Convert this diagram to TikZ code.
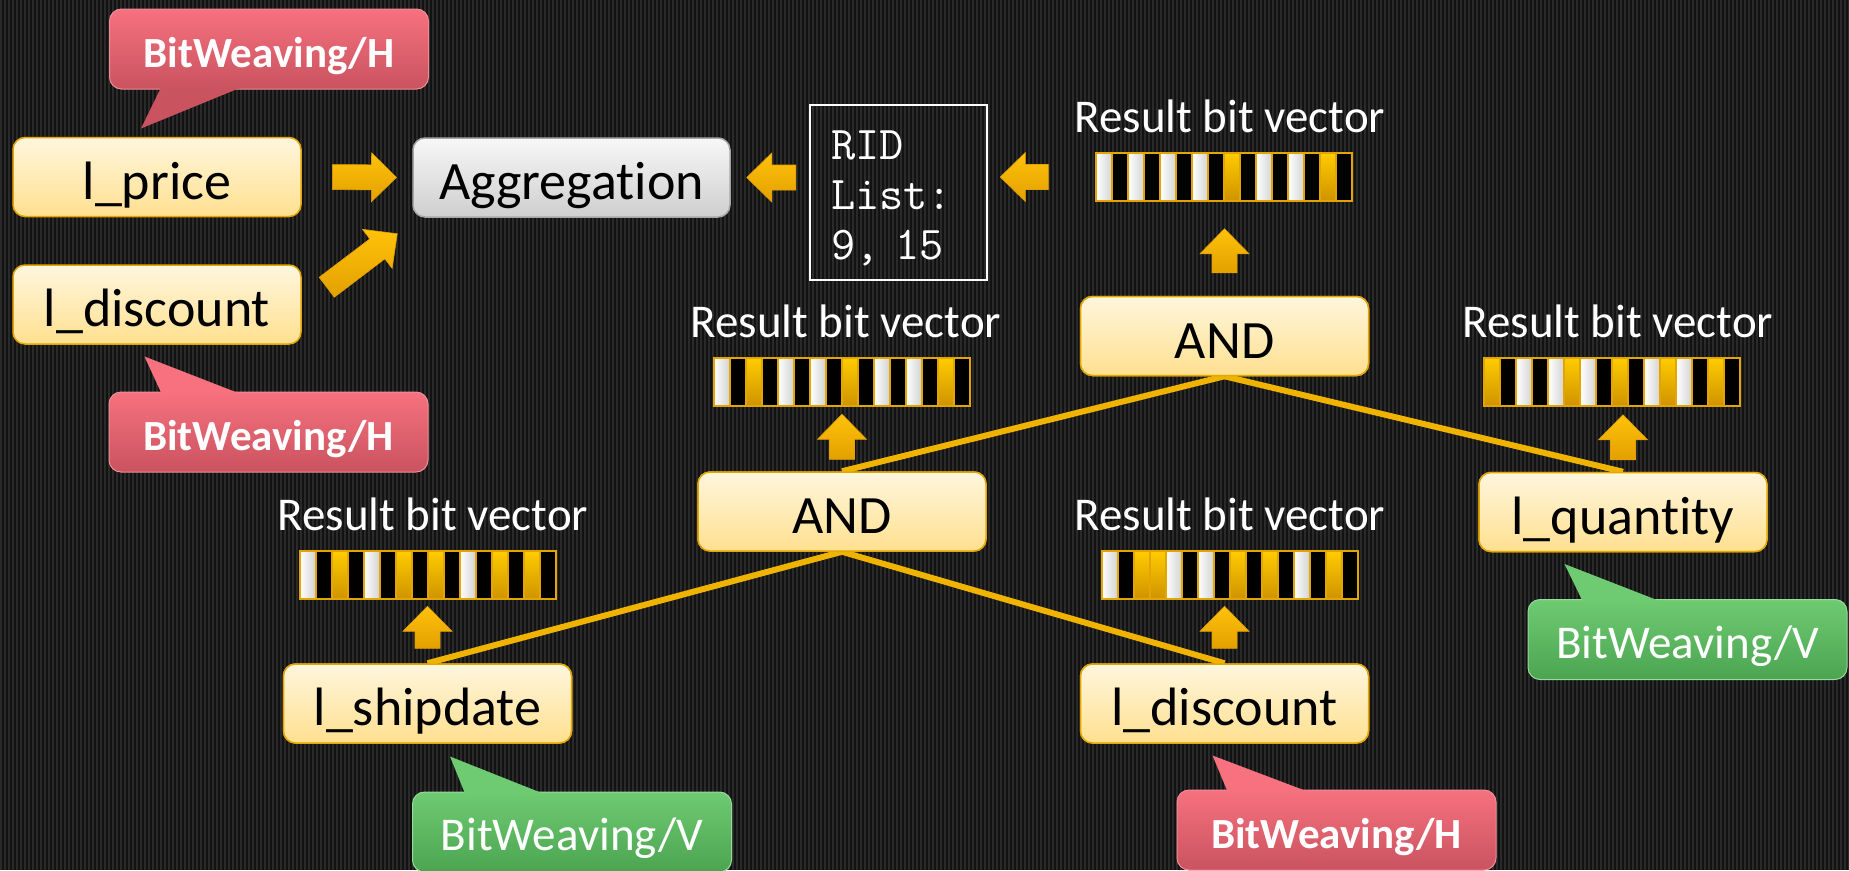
\documentclass[tikz,border=0pt]{standalone}
\usepackage{fontspec}
\setmainfont{Carlito}[Ligatures={NoCommon,NoRequired,NoContextual}]
\usetikzlibrary{calc}
\definecolor{bgdark}{HTML}{121212}
\definecolor{bgstripe}{HTML}{2A2A2A}
\definecolor{boxtop}{HTML}{FFF6DE}
\definecolor{boxbot}{HTML}{FFE08F}
\definecolor{boxline}{HTML}{E3A600}
\definecolor{orangeL}{HTML}{F0B400}
\definecolor{arrtop}{HTML}{FFC20A}
\definecolor{arrbot}{HTML}{E3A000}
\definecolor{redtop}{HTML}{F7717F}
\definecolor{redbot}{HTML}{C9535F}
\definecolor{redline}{HTML}{F08C98}
\definecolor{greentop}{HTML}{6ECB72}
\definecolor{greenbot}{HTML}{4CA451}
\definecolor{cellYa}{HTML}{FFCC00}
\definecolor{cellYb}{HTML}{CF9300}
\tikzset{
  attr/.style={rounded corners=12pt, draw=boxline, line width=1.5pt,
    top color=boxtop, bottom color=boxbot, minimum width=288pt, minimum height=79pt,
    font=\fontsize{54}{60}\selectfont, text height=44pt, text depth=0pt, inner sep=0pt},
  aggbox/.style={attr, draw=gray!70, top color=gray!6, bottom color=gray!38,
    minimum width=317pt},
  redcall/.style={rounded corners=12pt, top color=redtop, bottom color=redbot,
    draw=redline, line width=1pt, minimum width=319pt, minimum height=80pt, inner sep=0pt,
    text=white, font=\bfseries\fontsize{43}{48}\selectfont, text height=37pt, text depth=0pt},
  greencall/.style={redcall, top color=greentop, bottom color=greenbot, draw=greentop!70!white,
    font=\fontsize{47}{50}\selectfont},
  reslabel/.style={text=white, font=\fontsize{47}{50}\selectfont, anchor=base, inner sep=0pt},
  bitvec/.style={minimum width=256pt, minimum height=48pt, inner sep=0pt},
  cellW/.style={left color=white, right color=gray!35, draw=boxline, line width=2pt},
  cellB/.style={fill=black, draw=boxline, line width=2pt},
  cellY/.style={top color=cellYa, bottom color=cellYb, draw=boxline, line width=2pt},
  conn/.style={draw=orangeL, line width=6pt},
  barrowfill/.style={top color=arrtop, bottom color=arrbot, draw=arrbot, line width=0.6pt}
}
\newcommand\blockarrow[2]{%
  \coordinate (ba-s) at (#1);
  \coordinate (ba-e) at (#2);
  \coordinate (ba-h) at ($(ba-e)!25pt!(ba-s)$);
  \shade[barrowfill] ($(ba-s)!12.5pt!90:(ba-e)$) -- ($(ba-h)!12.5pt!-90:(ba-s)$)
    -- ($(ba-h)!24.5pt!-90:(ba-s)$) -- (ba-e) -- ($(ba-h)!24.5pt!90:(ba-s)$)
    -- ($(ba-h)!12.5pt!90:(ba-s)$) -- ($(ba-s)!12.5pt!-90:(ba-e)$) -- cycle;
}
\newcommand\bitcells[2]{%
  \foreach \c [count=\i from 0] in {#2} {
    \path[cell\c] ($(#1.north west)+(\i*16,0)$) rectangle ++(16,48);
  }%
}
\begin{document}
\begin{tikzpicture}[x=1pt, y=-1pt]
\useasboundingbox (0,0) rectangle (1849,870);
\fill[bgdark] (0,0) rectangle (1849,870);
\foreach \x in {0,4,...,1848} \fill[bgstripe] (\x,0) rectangle ++(1.7,870);

% nodes
\node[attr] (price) at (157,177) {l\_price};
\node[attr] (disc1) at (157,304.5) {l\_discount};
\node[aggbox] (agg) at (571.5,177.5) {Aggregation};
\node[draw=white, line width=1.5pt, minimum width=177pt, minimum height=175pt, inner sep=0pt,
  text width=135pt, align=left, text=white, font=\ttfamily\fontsize{47}{50}\selectfont]
  (rid) at (898.5,192.5) {\rule{0pt}{40pt}RID\\List:\\9, 15};
\node[attr] (and1) at (1224.5,336) {AND};
\node[attr] (and2) at (842,511.5) {AND};
\node[attr] (qty) at (1623,512) {l\_quantity};
\node[attr] (ship) at (427.5,703.5) {l\_shipdate};
\node[attr] (disc2) at (1224.5,703.5) {l\_discount};

% connecting lines
\draw[conn] (and1.south) -- (and2.north);
\draw[conn] (and1.south) -- (qty.north);
\draw[conn] (and2.south) -- (ship.north);
\draw[conn] (and2.south) -- (disc2.north);
% redraw boxes over line ends
\node[attr] at (and2) {AND};
\node[attr] at (qty) {l\_quantity};
\node[attr] at (ship) {l\_shipdate};
\node[attr] at (disc2) {l\_discount};
\node[attr] at (and1) {AND};

% labels and bit vectors
\node[reslabel] (lab1) at (1230,132) {Result bit vector};
\node[bitvec] (bv1) at (1224.5,177) {};
\bitcells{bv1}{W,B,W,B,W,B,W,B,Y,B,W,B,W,B,Y,B}
\node[reslabel] (lab2) at (846,337) {Result bit vector};
\node[bitvec] (bv2) at (842,382) {};
\bitcells{bv2}{W,B,Y,B,W,B,W,B,Y,B,W,B,W,B,Y,B}
\node[reslabel] (lab3) at (1618,337) {Result bit vector};
\node[bitvec] (bv3) at (1612.5,382) {};
\bitcells{bv3}{Y,B,W,B,W,Y,W,B,Y,B,W,Y,W,B,Y,B}
\node[reslabel] (lab4) at (433,530) {Result bit vector};
\node[bitvec] (bv4) at (428,575.5) {};
\bitcells{bv4}{W,B,Y,B,W,B,Y,B,Y,B,W,B,Y,B,Y,B}
\node[reslabel] (lab5) at (1230,530) {Result bit vector};
\node[bitvec] (bv5) at (1230,575.5) {};
\bitcells{bv5}{W,B,Y,Y,W,B,W,B,Y,B,Y,B,W,B,Y,B}

% block arrows
\blockarrow{$(price.east)!0.277!(agg.west)$}{$(price.east)!0.857!(agg.west)$}
\blockarrow{$(disc1.north east)+(25,23)$}{$(agg.south west)+(-15,16)$}
\blockarrow{$(agg.east)+(65,0)$}{$(agg.east)+(16,0)$}
\blockarrow{$(bv1.west)+(-48,0)$}{$(bv1.west)+(-96,0)$}
\blockarrow{$(and1.north)+(0,-23)$}{$(and1.north)+(0,-67)$}
\blockarrow{$(and2.north)+(0,-12)$}{$(and2.north)+(0,-57)$}
\blockarrow{$(qty.north)+(0,-12)$}{$(qty.north)+(0,-57)$}
\blockarrow{$(ship.north)+(0,-15)$}{$(ship.north)+(0,-57)$}
\blockarrow{$(disc2.north)+(0,-15)$}{$(disc2.north)+(0,-57)$}

% callouts
\node[redcall] (cb1) at (269,49) {BitWeaving/H};
\fill[redbot] ($(cb1.south west)+(52,-2)$) -- ($(cb1.south west)+(132,-2)$) -- ($(cb1.south west)+(32,39)$) -- cycle;
\node[redcall] (cb2) at (268.5,432) {BitWeaving/H};
\fill[redtop] ($(cb2.north west)+(53,2)$) -- ($(cb2.north west)+(131,2)$) -- ($(cb2.north west)+(36,-35)$) -- cycle;
\node[greencall] (cg1) at (1687.5,639.5) {BitWeaving/V};
\fill[greentop] ($(cg1.north west)+(55,2)$) -- ($(cg1.north west)+(132,2)$) -- ($(cg1.north west)+(37,-35)$) -- cycle;
\node[greencall] (cg2) at (572,832) {BitWeaving/V};
\fill[greentop] ($(cg2.north west)+(53,2)$) -- ($(cg2.north west)+(131,2)$) -- ($(cg2.north west)+(38,-35)$) -- cycle;
\node[redcall] (cb3) at (1336.5,830) {BitWeaving/H};
\fill[redtop] ($(cb3.north west)+(51,2)$) -- ($(cb3.north west)+(131,2)$) -- ($(cb3.north west)+(36,-34)$) -- cycle;
\end{tikzpicture}
\end{document}
